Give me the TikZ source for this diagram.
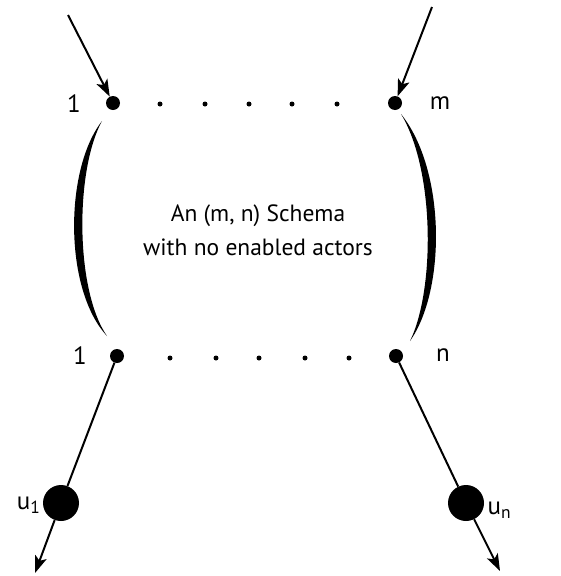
\documentclass[tikz,border=0pt]{standalone}
\usepackage{fontspec}
\setmainfont{PT Sans}
\usetikzlibrary{arrows.meta}
\begin{document}
\begin{tikzpicture}[x=1pt,y=-1pt,
  port/.style={circle,fill=black,inner sep=0pt,minimum size=14pt},
  dotsm/.style={circle,fill=black,inner sep=0pt,minimum size=5pt},
  big/.style={circle,fill=black,inner sep=0pt,minimum size=36pt},
  lab/.style={font=\fontsize{25}{28}\selectfont},
  wire/.style={line width=2pt},
  arr/.style={wire,-{Stealth[length=17pt,width=12pt,inset=4pt]}}]
\useasboundingbox (0,0) rectangle (561,576);
% ports
\node[port] (t1) at (113,103) {};
\node[port] (tm) at (395,103) {};
\node[port] (b1) at (117,356) {};
\node[port] (bn) at (396,356) {};
% small dots
\foreach \x [count=\i] in {160,205,249,292,337} \node[dotsm] (td\i) at (\x,104) {};
\foreach \x [count=\i] in {170,216,259,305,349} \node[dotsm] (bd\i) at (\x,358) {};
% labels
\node[lab] (l1) at (74,104) {1};
\node[lab] (lm) at (440,103) {m};
\node[lab] (l1b) at (80,356) {1};
\node[lab] (ln) at (443,355) {n};
% main text
\node[font=\fontsize{23.5}{34}\selectfont,align=center] (txt) at (258,230)
  {An (m, n) Schema\\with no enabled actors};
% inputs
\coordinate (inL) at (68,15);
\coordinate (inR) at (432,7);
\draw[arr] (inL) -- (t1);
\draw[arr] (inR) -- (tm);
% arcs (tapered)
\fill (102,121) .. controls (64,170) and (64,290) .. (107,336)
  .. controls (75,290) and (75,170) .. (102,121) -- cycle;
\fill (401,114) .. controls (446,170) and (446,290) .. (410,341)
  .. controls (435,290) and (435,170) .. (401,114) -- cycle;
% outputs
\node[big] (u1) at (61,503) {};
\node[big] (un) at (466,503) {};
\node[lab,anchor=east] (lu1) at (44,505) {u$_{\mathrm{1}}$};
\node[lab,anchor=west] (lun) at (484,510) {u$_{\mathrm{n}}$};
\coordinate (outL) at (35,573);
\coordinate (outR) at (500,571);
\draw[wire] (b1) -- (u1);
\draw[wire] (bn) -- (un);
\draw[arr] (u1) -- (outL);
\draw[arr] (un) -- (outR);
\end{tikzpicture}
\end{document}
